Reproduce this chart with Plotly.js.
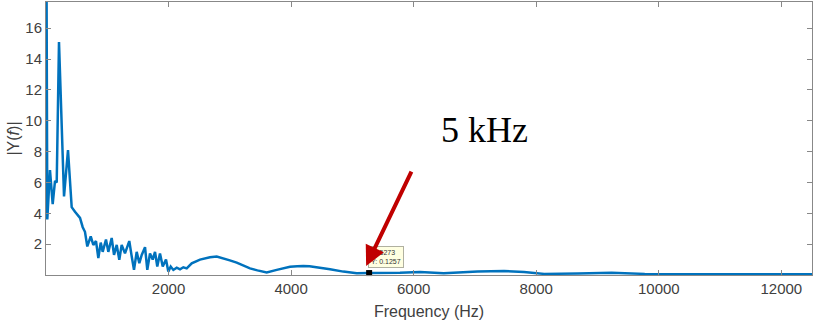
<!DOCTYPE html>
<html>
<head>
<meta charset="utf-8">
<script src="https://cdn.plot.ly/plotly-3.0.1.min.js"></script>
<style>html,body{margin:0;padding:0;background:#fff;}#chart{width:813px;height:322px;}</style>
</head>
<body>
<div id="chart"></div>
<script>
// Spectrum magnitude |Y(f)|
const freqHz = [0, 21, 65, 109, 147, 175, 212, 294, 359, 419, 473, 555, 599, 636, 674, 730, 772, 816, 854, 893, 925, 979, 1017, 1072, 1110, 1154, 1196, 1235, 1289, 1359, 1399, 1436, 1480, 1523, 1562, 1616, 1653, 1697, 1741, 1779, 1816, 1860, 1905, 1958, 1996, 2035, 2078, 2133, 2187, 2241, 2296, 2378, 2513, 2600, 2676, 2786, 2894, 3000, 3112, 3220, 3329, 3450, 3602, 3765, 3870, 3982, 4100, 4199, 4300, 4418, 4635, 4852, 5071, 5273, 5500, 5777, 6104, 6490, 7043, 7475, 7800, 8130, 8680, 9230, 9770, 10320, 10870, 11410, 11960, 12550];
const magnitude = [30, 3.6, 6.8, 4.6, 6.1, 6.0, 15.1, 5.1, 8.1, 4.4, 4.1, 3.7, 3.1, 2.8, 1.85, 2.5, 1.95, 2.2, 1.1, 2.1, 1.5, 2.3, 1.5, 2.4, 1.3, 1.95, 0.98, 1.95, 1.4, 2.2, 1.2, 0.33, 1.5, 0.76, 1.3, 1.8, 0.33, 1.4, 1.0, 1.5, 0.55, 1.4, 0.55, 1.0, 0.22, 0.55, 0.33, 0.48, 0.37, 0.5, 0.43, 0.76, 1.0, 1.08, 1.15, 1.2, 1.09, 0.95, 0.8, 0.62, 0.43, 0.3, 0.17, 0.33, 0.45, 0.54, 0.57, 0.59, 0.56, 0.5, 0.37, 0.22, 0.11, 0.1257, 0.12, 0.15, 0.2, 0.11, 0.22, 0.26, 0.2, 0.07, 0.1, 0.15, 0.07, 0.05, 0.03, 0.05, 0.05, 0.05];

// Data tip
const tipX = [5273];
const tipY = [0.1257];

const xTicks = [2000, 4000, 6000, 8000, 10000, 12000];
const yTicks = [2, 4, 6, 8, 10, 12, 14, 16];

const traces = [
  {
    x: freqHz, y: magnitude, type: 'scatter', mode: 'lines',
    line: {color: '#0072BD', width: 2.5},
    hoverinfo: 'skip'
  },
  {
    x: tipX, y: tipY, type: 'scatter', mode: 'markers',
    marker: {symbol: 'square', size: 6, color: '#000'},
    cliponaxis: false, hoverinfo: 'skip'
  }
];

const axisCommon = {
  showgrid: false, zeroline: false, showline: true, linecolor: '#888', linewidth: 1,
  mirror: 'ticks', ticks: 'inside', ticklen: 5, tickcolor: '#888', tickwidth: 1,
  tickfont: {family: 'Liberation Sans, Arial, sans-serif', size: 15, color: '#404040'}
};

const layout = {
  width: 813, height: 322,
  margin: {l: 46, r: 1, t: 2, b: 47},
  paper_bgcolor: '#fff', plot_bgcolor: '#fff',
  showlegend: false,
  xaxis: Object.assign({}, axisCommon, {
    range: [0, 12500], tickvals: xTicks, ticktext: xTicks.map(String),
    title: {text: 'Frequency (Hz)', font: {family: 'Liberation Sans, Arial, sans-serif', size: 16, color: '#404040'}, standoff: 9}
  }),
  yaxis: Object.assign({}, axisCommon, {
    range: [0, 17.7], tickvals: yTicks, ticktext: yTicks.map(String),
    title: {text: '|Y(<i>f</i>)|', font: {family: 'Liberation Sans, Arial, sans-serif', size: 16, color: '#404040'}, standoff: 1}
  }),
  annotations: [
    {
      xref: 'paper', yref: 'paper', x: 0.572, y: 0.532, xanchor: 'center', yanchor: 'middle',
      text: '5 kHz', showarrow: false,
      font: {family: 'Liberation Serif, Times New Roman, serif', size: 36, color: '#000'}
    },
    {
      xref: 'x', yref: 'y', x: tipX[0], y: tipY[0], xanchor: 'left', yanchor: 'bottom',
      xshift: -1, yshift: 5,
      text: 'X: ' + tipX[0] + '<br>Y: ' + tipY[0], align: 'left', showarrow: false,
      bgcolor: '#ffffe1', bordercolor: '#b0b0a0', borderwidth: 1, borderpad: 2,
      font: {family: 'Liberation Sans, Arial, sans-serif', size: 7, color: '#333'}
    },
    {
      xref: 'x', yref: 'y', x: tipX[0], y: tipY[0], xshift: -3, yshift: 7,
      text: '', showarrow: true, arrowhead: 2, arrowsize: 1, arrowwidth: 4,
      arrowcolor: '#c00000', ax: 46, ay: -96, standoff: 0
    }
  ]
};

Plotly.newPlot('chart', traces, layout, {displayModeBar: false, staticPlot: true});
</script>
</body>
</html>
